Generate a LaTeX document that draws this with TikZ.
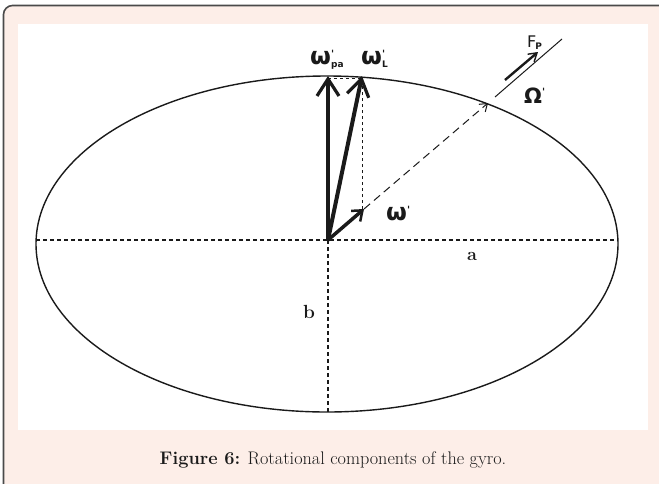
\documentclass[tikz,border=0pt]{standalone}
\usepackage{fontspec}
\newfontfamily\symfont{DejaVu Sans}
\usetikzlibrary{arrows.meta}
\definecolor{pinkbg}{HTML}{FDEEE8}
\definecolor{framec}{HTML}{4A4A4A}
\definecolor{inkc}{HTML}{1A1A1A}
\tikzset{
  axisline/.style={draw=inkc, line width=1.2pt, dash pattern=on 4pt off 3pt},
  guideline/.style={draw=inkc, line width=1pt, dash pattern=on 3pt off 3pt},
  bigvec/.style={draw=inkc, line width=4pt, -{Straight Barb[length=17pt,width=22pt,line width=3.2pt]}},
  smallvec/.style={draw=inkc, line width=3.5pt, -{Straight Barb[length=9pt,width=14pt,line width=2.5pt]}},
  omegaline/.style={draw=inkc, line width=1pt, dash pattern=on 8pt off 5pt, -{Straight Barb[length=7pt,width=10pt,line width=1pt]}},
  thinline/.style={draw=inkc, line width=1pt},
  forcevec/.style={draw=inkc, line width=2.4pt, -{Straight Barb[length=8pt,width=10pt,line width=1.4pt]}},
  lab/.style={inner sep=0pt, text=inkc},
}
\newcommand{\omglab}[1]{{\symfont\bfseries\fontsize{24}{24}\selectfont ω\raisebox{7pt}{\fontsize{10}{10}\selectfont '}\kern-3pt\raisebox{-3pt}{\fontsize{9}{9}\selectfont #1}}}
\begin{document}
\begin{tikzpicture}[x=1pt,y=-1pt]
\useasboundingbox (0,0) rectangle (659,483);
% frame
\fill[pinkbg] (3.5,5.5) [rounded corners=9pt] -- (680,5.5) -- (680,500) -- (3.5,500) -- cycle;
\draw[framec, line width=1.6pt, rounded corners=9pt] (3.5,500) -- (3.5,5.5) -- (680,5.5);
\fill[white] (18,24) rectangle (648,430);
% ellipse
\draw[inkc, line width=1.4pt] (327,244) ellipse [x radius=291, y radius=168];
% coordinates
\coordinate (O) at (328,240);
\coordinate (Lft) at (36,240);
\coordinate (Rgt) at (618,240);
\coordinate (Bot) at (328,412);
\coordinate (Ppa) at (328,76);
\coordinate (PL) at (362,76);
\coordinate (Pw) at (364,209);
\coordinate (Pwb) at (362,209);
\coordinate (Top) at (362,78);
\coordinate (TopL) at (328,78);
\coordinate (POm) at (488,103);
\coordinate (S1) at (495,97);
\coordinate (S2) at (562,39);
\coordinate (F1) at (505,80);
\coordinate (F2) at (538,52);
% axes
\draw[axisline] (Lft) -- (Rgt);
\draw[axisline] (O) -- (Bot);
% guides
\draw[guideline] (Pwb) -- (Top);
\draw[guideline] (TopL) -- (Top);
% vectors
\draw[omegaline] (Pw) -- (POm);
\draw[thinline] (S1) -- (S2);
\draw[forcevec] (F1) -- (F2);
\draw[bigvec] (O) -- (Ppa);
\draw[bigvec] (O) -- (PL);
\draw[smallvec] (O) -- (Pw);
% labels
\node[lab, anchor=base west] (lpa) at (310,64) {\omglab{pa}};
\node[lab, anchor=base west] (lL) at (361,64) {\omglab{L}};
\node[lab, anchor=base west] (lw) at (386,220) {\omglab{}};
\node[lab, anchor=base west] (lOm) at (524,103) {\symfont\bfseries\fontsize{21}{21}\selectfont Ω\raisebox{8pt}{\fontsize{10}{10}\selectfont '}};
\node[lab, anchor=base west] (lF) at (527,47) {\symfont\fontsize{16}{16}\selectfont F\kern-1pt\raisebox{-2.5pt}{\fontsize{9}{9}\selectfont\bfseries P}};
\node[lab, anchor=base] (la) at (472,260) {\bfseries\fontsize{18}{18}\selectfont a};
\node[lab, anchor=base] (lb) at (309,318) {\bfseries\fontsize{19}{19}\selectfont b};
% caption
\node[lab, anchor=base] (cap) at (333,464) {\fontsize{18.2}{19}\selectfont\textbf{Figure 6:} Rotational components of the gyro.};
\end{tikzpicture}
\end{document}
